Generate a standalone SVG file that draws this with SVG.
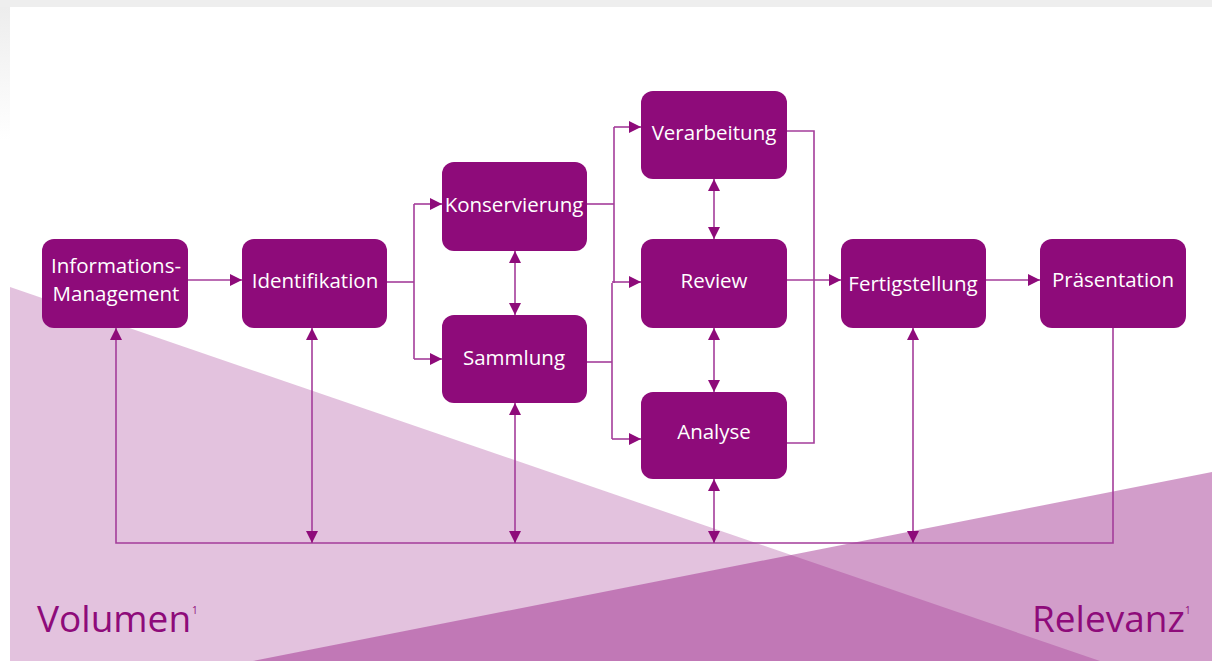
<svg xmlns="http://www.w3.org/2000/svg" width="1212" height="661" viewBox="0 0 1212 661">
<defs>
<linearGradient id="lg" x1="0" y1="0" x2="0" y2="1">
<stop offset="0" stop-color="#ececec"/>
<stop offset="1" stop-color="#ffffff"/>
</linearGradient>
<marker id="ah" viewBox="0 0 12 12" markerWidth="12" markerHeight="12" refX="12" refY="6" orient="auto-start-reverse" markerUnits="userSpaceOnUse">
<path d="M0,0 L12,6 L0,12 z" fill="#8e0b7a"/>
</marker>
<style>
.box{fill:#8e0b7a}
.lbl{font-family:"Open Sans","Liberation Sans",sans-serif;font-size:20.5px;fill:#ffffff;text-anchor:middle}
.ln{fill:none;stroke:#a43d9a;stroke-width:1.6}
.big{font-family:"Open Sans","Liberation Sans",sans-serif;font-size:37px;fill:#8e0b7a}
.sup{font-family:"Open Sans","Liberation Sans",sans-serif;font-size:10px;fill:#8e0b7a}
</style>
</defs>
<rect x="0" y="0" width="1212" height="661" fill="#ffffff"/>
<rect x="0" y="0" width="10" height="140" fill="url(#lg)"/>
<rect x="0" y="0" width="1212" height="7" fill="#eeeeee"/>
<g id="background">
<polygon points="10,287 1100,661 10,661" fill="#8e0b7a" fill-opacity="0.25"/>
<polygon points="1212,472 1212,661 253,661" fill="#8e0b7a" fill-opacity="0.4"/>
</g>
<g id="connectors">
<path class="ln" d="M188,280 H242" marker-end="url(#ah)"/>
<path class="ln" d="M387,282 H414"/>
<path class="ln" d="M414,204 V359"/>
<path class="ln" d="M414,204 H442" marker-end="url(#ah)"/>
<path class="ln" d="M414,359 H442" marker-end="url(#ah)"/>
<path class="ln" d="M515,251 V315" marker-start="url(#ah)" marker-end="url(#ah)"/>
<path class="ln" d="M587,204 H614"/>
<path class="ln" d="M614,127 V283"/>
<path class="ln" d="M587,362 H612"/>
<path class="ln" d="M612,283 V439"/>
<path class="ln" d="M614,127 H641" marker-end="url(#ah)"/>
<path class="ln" d="M612,282 H641" marker-end="url(#ah)"/>
<path class="ln" d="M612,439 H641" marker-end="url(#ah)"/>
<path class="ln" d="M714,179 V239" marker-start="url(#ah)" marker-end="url(#ah)"/>
<path class="ln" d="M714,328 V392" marker-start="url(#ah)" marker-end="url(#ah)"/>
<path class="ln" d="M787,131 H814 V443 H787"/>
<path class="ln" d="M787,280 H841" marker-end="url(#ah)"/>
<path class="ln" d="M986,280 H1040" marker-end="url(#ah)"/>
<path class="ln" d="M1113,328 V543 H116 V328" marker-end="url(#ah)"/>
<path class="ln" d="M312,328 V543" marker-start="url(#ah)" marker-end="url(#ah)"/>
<path class="ln" d="M515,403 V543" marker-start="url(#ah)" marker-end="url(#ah)"/>
<path class="ln" d="M714,479 V543" marker-start="url(#ah)" marker-end="url(#ah)"/>
<path class="ln" d="M913,328 V543" marker-start="url(#ah)" marker-end="url(#ah)"/>
</g>
<g id="n-info"><rect class="box" x="42" y="239" width="146" height="89" rx="12"/><text class="lbl" x="116" y="273">Informations-</text><text class="lbl" x="116" y="301">Management</text></g>
<g id="n-ident"><rect class="box" x="242" y="239" width="145" height="89" rx="12"/><text class="lbl" x="315" y="288">Identifikation</text></g>
<g id="n-kons"><rect class="box" x="442" y="162" width="145" height="89" rx="12"/><text class="lbl" x="514" y="212">Konservierung</text></g>
<g id="n-samm"><rect class="box" x="442" y="315" width="145" height="88" rx="12"/><text class="lbl" x="514" y="365">Sammlung</text></g>
<g id="n-verarb"><rect class="box" x="641" y="91" width="146" height="88" rx="12"/><text class="lbl" x="714" y="140">Verarbeitung</text></g>
<g id="n-review"><rect class="box" x="641" y="239" width="146" height="89" rx="12"/><text class="lbl" x="714" y="288">Review</text></g>
<g id="n-analyse"><rect class="box" x="641" y="392" width="146" height="87" rx="12"/><text class="lbl" x="714" y="439">Analyse</text></g>
<g id="n-fertig"><rect class="box" x="841" y="239" width="145" height="89" rx="12"/><text class="lbl" x="913" y="291">Fertigstellung</text></g>
<g id="n-praes"><rect class="box" x="1040" y="239" width="146" height="89" rx="12"/><text class="lbl" x="1113" y="287">Präsentation</text></g>
<g id="labels">
<text class="big" x="37" y="632">Volumen</text><text class="sup" x="192" y="614">1</text>
<text class="big" x="1032" y="632">Relevanz</text><text class="sup" x="1185" y="614">1</text>
</g>
</svg>
